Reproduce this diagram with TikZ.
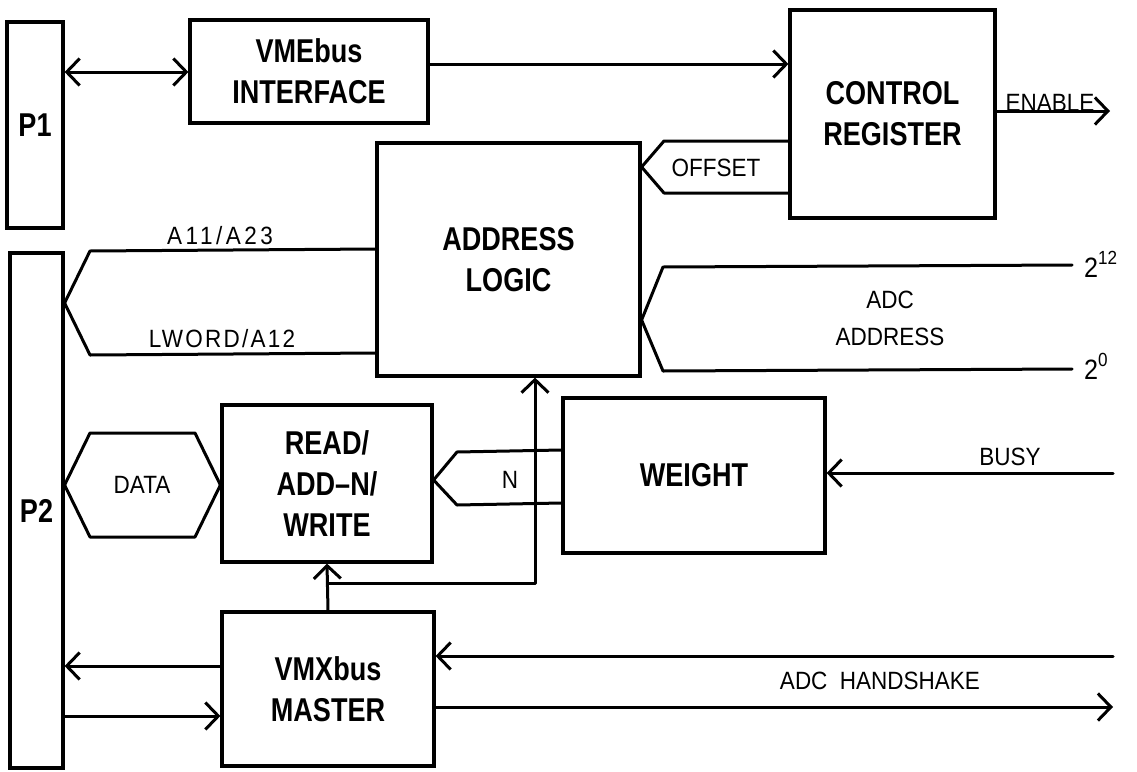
\documentclass[tikz,border=0pt]{standalone}
\usepackage{fontspec}
\setmainfont{Liberation Sans}
\newfontfamily\bigfont{Liberation Sans}[FakeStretch=0.82]
\newfontfamily\smallfont{Liberation Sans}[FakeStretch=0.9]
\usetikzlibrary{arrows.meta}
\begin{document}
\begin{tikzpicture}[x=1pt,y=-1pt,
  blk/.style={draw, line width=3.2pt, inner sep=0pt, align=center,
    font=\bigfont\bfseries\fontsize{33}{41}\selectfont},
  lbl/.style={inner sep=0pt, align=center, font=\smallfont\fontsize{25}{37}\selectfont},
  wire/.style={line width=3pt, line join=round, line cap=round},
  arr/.style={wire, -{Straight Barb[length=13pt,width=27pt]}},
  darr/.style={wire, {Straight Barb[length=13pt,width=27pt]}-{Straight Barb[length=13pt,width=27pt]}}
]
\useasboundingbox (0,0) rectangle (1137,771);

% blocks
\node[blk, minimum width=56pt, minimum height=206pt] (p1) at (35,125) {P1};
\node[blk, minimum width=238pt, minimum height=103pt] (vme) at (309,71.5) {VMEbus\\INTERFACE};
\node[blk, minimum width=205pt, minimum height=208pt] (ctrl) at (892.5,114) {CONTROL\\REGISTER};
\node[blk, minimum width=263pt, minimum height=233pt] (addr) at (508.5,259.5) {ADDRESS\\LOGIC};
\node[blk, minimum width=53pt, minimum height=515pt] (p2) at (36.5,510.5) {P2};
\node[blk, minimum width=210pt, minimum height=157pt] (read) at (327,483.5) {READ/\\ADD\textendash N/\\WRITE};
\node[blk, minimum width=262pt, minimum height=155pt] (weight) at (694,475.5) {WEIGHT};
\node[blk, minimum width=212pt, minimum height=154pt] (vmx) at (328,689) {VMXbus\\MASTER};

% free ends
\coordinate (enableEnd) at (1110,111);
\coordinate (adcTop) at (1072,265);
\coordinate (adcBot) at (1072,369);
\coordinate (busyIn) at (1113,473);
\coordinate (hsIn) at (1113,656);
\coordinate (hsOut) at (1113,707);

% top connectors
\draw[darr] (p1.east |- 0,72) -- (vme.west |- 0,72);
\draw[arr] (vme.east |- 0,64) -- (ctrl.west |- 0,64);
\draw[arr] (ctrl.east |- enableEnd) -- (enableEnd);
\node[lbl, anchor=south] (enlbl) at (1050,112) {ENABLE};

% OFFSET bus
\draw[wire] (ctrl.west |- 0,141) -- (664,141) -- (addr.east |- 0,167) -- (664,193) -- (ctrl.west |- 0,193);
\node[lbl] (offlbl) at (716,168) {OFFSET};

% A11/A23 bus to P2
\draw[wire] (addr.west |- 0,249) -- (90,251) -- (p2.east |- 0,303) -- (90,355) -- (addr.west |- 0,353);
\node[lbl, font=\smallfont\fontsize{25}{37}\selectfont\addfontfeature{LetterSpace=14}] (albl) at (220,236) {A11/A23};
\node[lbl, font=\smallfont\fontsize{25}{37}\selectfont\addfontfeature{LetterSpace=9}] (lwlbl) at (222,339) {LWORD/A12};

% ADC address bus
\draw[wire] (adcTop) -- (663,267) -- (addr.east |- 0,320) -- (663,371) -- (adcBot);
\node[lbl, anchor=base west] (b12) at (1084,277) {\fontsize{28}{28}\selectfont 2\raisebox{13pt}{\fontsize{19}{19}\selectfont 12}};
\node[lbl, anchor=base west] (b0) at (1084,379) {\fontsize{28}{28}\selectfont 2\raisebox{13pt}{\fontsize{19}{19}\selectfont 0}};
\node[lbl] (adclbl) at (890,318) {ADC\\ADDRESS};

% DATA bus
\draw[wire] (p2.east |- 0,485) -- (90,433) -- (195,433) -- (read.west |- 0,485) -- (195,537) -- (90,537) -- cycle;
\node[lbl] (datalbl) at (142,485) {DATA};

% N bus
\draw[wire] (weight.west |- 0,450) -- (457,452) -- (read.east |- 0,480) -- (457,505) -- (weight.west |- 0,503);
\node[lbl] (nlbl) at (510,480) {N};

% VMX master to READ and ADDRESS LOGIC
\draw[arr] (vmx.north) -- (read.south);
\draw[arr] (vmx.north |- 0,583) -- (535,583) -- (535,0 |- addr.south);

% BUSY
\draw[arr] (busyIn) -- (weight.east |- busyIn);
\node[lbl] (busylbl) at (1010,457) {BUSY};

% handshake
\draw[arr] (hsIn) -- (vmx.east |- hsIn);
\draw[arr] (vmx.east |- hsOut) -- (hsOut);
\node[lbl] (hslbl) at (880,681) {ADC\hspace{0.5em}HANDSHAKE};

% VMX <-> P2
\draw[arr] (vmx.west |- 0,666) -- (p2.east |- 0,666);
\draw[arr] (p2.east |- 0,716) -- (vmx.west |- 0,716);
\end{tikzpicture}
\end{document}
